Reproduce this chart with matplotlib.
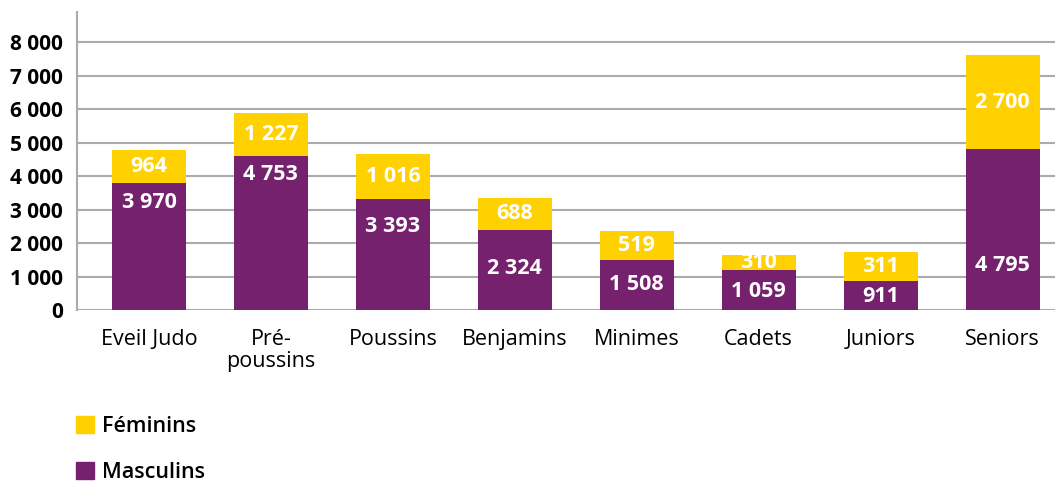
import matplotlib.pyplot as plt
from matplotlib.patches import Patch

# Categories and printed values
categories = ['Eveil Judo', 'Pré-\npoussins', 'Poussins', 'Benjamins',
              'Minimes', 'Cadets', 'Juniors', 'Seniors']
masculins = [3970, 4753, 3393, 2324, 1508, 1059, 911, 4795]
feminins = [964, 1227, 1016, 688, 519, 310, 311, 2700]

# Bar heights as drawn in the source graphic (they differ slightly from the printed numbers)
masc_drawn = [3780, 4590, 3320, 2400, 1500, 1200, 880, 4800]
fem_drawn = [1000, 1280, 1350, 950, 870, 450, 860, 2820]

# vertical position of the white "masculins" labels
masc_label_y = [3200, 4040, 2485, 1230, 750, 540, 390, 1320]

yticks = [0, 1000, 2000, 3000, 4000, 5000, 6000, 7000, 8000]

PURPLE = '#76216E'
YELLOW = '#FFD100'
GRID = '#ABABAB'

plt.rcParams['font.family'] = ['Open Sans', 'DejaVu Sans']


def fmt(v):
    return f'{v:,}'.replace(',', ' ')


fig = plt.figure(figsize=(10.55, 4.83), dpi=100)
ax = fig.add_axes([77 / 1055, 1 - 310 / 483, 1 - 77 / 1055, (310 - 12) / 483])

x = list(range(len(categories)))
ax.bar(x, masc_drawn, width=0.607, color=PURPLE, zorder=3)
ax.bar(x, fem_drawn, width=0.607, bottom=masc_drawn, color=YELLOW, zorder=3)

for i in x:
    ax.text(i, masc_label_y[i], fmt(masculins[i]), ha='center', va='center',
            color='white', fontsize=15.5, fontweight='bold', zorder=4)
    ax.text(i, masc_drawn[i] + fem_drawn[i] / 2, fmt(feminins[i]), ha='center',
            va='center', color='white', fontsize=15.5, fontweight='bold', zorder=4)

ax.set_xlim(-0.59, 7.43)
ax.set_ylim(0, 8900)
ax.set_yticks(yticks)
ax.set_yticklabels([fmt(v) for v in yticks], fontsize=15, fontweight='bold')
ax.set_xticks(x)
ax.set_xticklabels(categories, fontsize=15.5, linespacing=1.05)
ax.tick_params(axis='both', length=0)
ax.tick_params(axis='x', pad=14)
ax.tick_params(axis='y', pad=10)
ax.grid(axis='y', color=GRID, linewidth=1.5, zorder=0)
for s in ['top', 'right', 'bottom']:
    ax.spines[s].set_visible(False)
ax.spines['left'].set_color(GRID)
ax.spines['left'].set_linewidth(1.5)

handles = [Patch(color=YELLOW), Patch(color=PURPLE)]
fig.legend(handles, ['Féminins', 'Masculins'], loc='upper left',
           bbox_to_anchor=(76 / 1055, 1 - 416 / 483), frameon=False,
           prop={'size': 15.5, 'weight': 'semibold'}, handlelength=0.85,
           handleheight=0.85, handletextpad=0.35,
           labelspacing=1.15, borderpad=0, borderaxespad=0)

fig.savefig('out.png', dpi=100)
